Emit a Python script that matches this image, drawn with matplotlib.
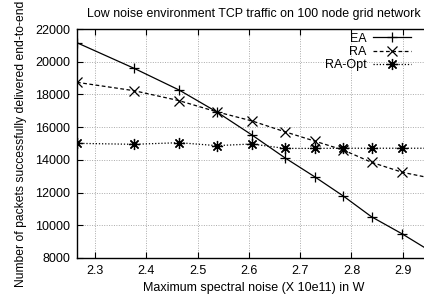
import matplotlib
matplotlib.use("Agg")
import matplotlib.pyplot as plt

noise = [2.265, 2.376, 2.464, 2.537, 2.606, 2.670, 2.728, 2.784, 2.839, 2.899, 2.960]
ea = [21160, 19600, 18270, 16940, 15520, 14130, 12970, 11790, 10520, 9470, 8300]
ra = [18740, 18230, 17620, 16940, 16380, 15720, 15150, 14600, 13850, 13240, 12850]
ra_opt = [15010, 14950, 15050, 14870, 14970, 14700, 14700, 14710, 14710, 14710, 14710]
xticks = [2.3, 2.4, 2.5, 2.6, 2.7, 2.8, 2.9]
yticks = [8000, 10000, 12000, 14000, 16000, 18000, 20000, 22000]

plt.rcParams['font.family'] = ['Liberation Sans', 'DejaVu Sans']
W, H = 424, 301
fig = plt.figure(figsize=(W/100, H/100), dpi=100)
ax = fig.add_axes([77/W, 43/H, (430-77)/W, (258-29)/H])

ax.plot(noise, ea, color='black', lw=0.9, ls='-', marker='+', ms=7.5, mew=0.9, label='EA')
ax.plot(noise, ra, color='black', lw=0.9, ls=(0, (3, 2)), marker='x', ms=6.5, mew=0.9, label='RA')
ax.plot(noise, ra_opt, color='black', lw=0.9, ls=(0, (1, 1.5)), marker=(8, 2, 0), ms=8, mew=0.9, label='RA-Opt')

ax.set_xlim(2.265, 2.953)
ax.set_ylim(8000, 22000)
ax.set_xticks(xticks)
ax.set_xticklabels([f"{t:.1f}" for t in xticks])
ax.set_yticks(yticks)
ax.grid(True, color='#aaaaaa', ls=(0, (1, 1.5)), lw=0.7)
ax.tick_params(direction='in', top=True, right=True, length=4, labelsize=9, width=0.8, pad=5)
for s in ax.spines.values():
    s.set_linewidth(1.0)

ax.set_title('Low noise environment TCP traffic on 100 node grid network', fontsize=8.9, pad=9)
ax.set_xlabel('Maximum spectral noise (X 10e11) in W', fontsize=9, labelpad=4)
ax.set_ylabel('Number of packets successfully delivered end-to-end', fontsize=8.7, labelpad=6)

leg = ax.legend(loc='upper right', bbox_to_anchor=((413-77)/353, 0.995), frameon=False, markerfirst=False,
                fontsize=9, handlelength=3.0, handletextpad=0.5, labelspacing=0.1, borderaxespad=0.0,
                borderpad=0.2)

fig.savefig('out.png', dpi=100)
